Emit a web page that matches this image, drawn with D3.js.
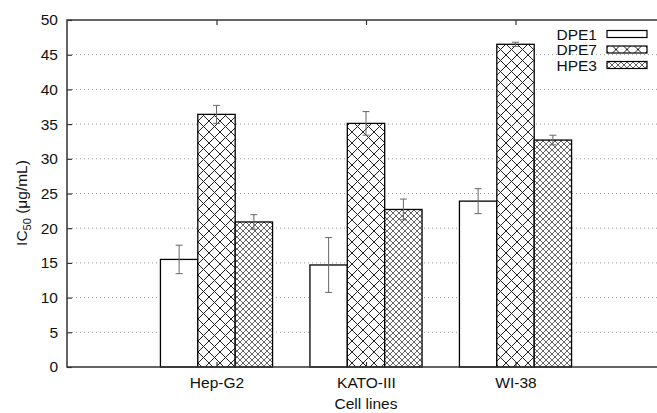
<!DOCTYPE html>
<html>
<head>
<meta charset="utf-8">
<script src="https://cdn.jsdelivr.net/npm/d3@7"></script>
<style>
  body { margin: 0; background: #fff; }
  svg { display: block; font-family: "Liberation Sans", Arial, sans-serif; }
</style>
</head>
<body>
<svg id="chart" width="657" height="413"></svg>
<script>
// data
var cellLines = ["Hep-G2", "KATO-III", "WI-38"];
var seriesNames = ["DPE1", "DPE7", "HPE3"];
var dpe1 = [15.5, 14.7, 23.9];
var dpe7 = [36.4, 35.1, 46.5];
var hpe3 = [20.9, 22.7, 32.7];
var dpe1Err = [2.05, 3.95, 1.8];
var dpe7Err = [1.3, 1.7, 0.3];
var hpe3Err = [1.05, 1.5, 0.7];
var yTicks = [0, 5, 10, 15, 20, 25, 30, 35, 40, 45, 50];

var values = [dpe1, dpe7, hpe3];
var errors = [dpe1Err, dpe7Err, hpe3Err];
var fontSize = 15.5;

let data = [];
seriesNames.forEach(function (s, j) {
  cellLines.forEach(function (c, i) {
    data.push({ series: j, group: i, value: values[j][i], err: errors[j][i] });
  });
});

let svg = d3.select("svg#chart");

// gnuplot-like x range: -1 .. 3 (right side is cut off by the picture)
let xScale = d3.scaleLinear().domain([-1, 3]).range([67, 665]),
  yScale = d3.scaleLinear().domain([0, 50]).range([367, 20]);

let boxW = xScale(0.25) - xScale(0);

// patterns
const defs = svg.append("defs");
function hatch(id, size, color, sw) {
  let p = defs.append("pattern")
    .attr("id", id)
    .attr("patternUnits", "userSpaceOnUse")
    .attr("width", size).attr("height", size);
  p.append("rect").attr("width", size).attr("height", size).attr("fill", "#fff");
  p.append("path")
    .attr("d", "M0,0L" + size + "," + size + "M" + size + ",0L0," + size)
    .attr("stroke", color).attr("stroke-width", sw).attr("fill", "none");
}
hatch("big-hatch", 11, "#222", 1);
hatch("fine-hatch", 6, "#555", 0.9);
var fills = ["#fff", "url(#big-hatch)", "url(#fine-hatch)"];

let g = svg.append("g");

// grid (dotted)
g.selectAll(".grid")
  .data(yTicks.slice(1, -1))
  .enter().append("line")
  .attr("x1", xScale(-1) + 5).attr("x2", 657)
  .attr("y1", d => yScale(d)).attr("y2", d => yScale(d))
  .attr("stroke", "#999").attr("stroke-width", 1)
  .attr("stroke-dasharray", "1,3");

// bars
g.selectAll(".bar")
  .data(data)
  .enter().append("rect")
  .attr("class", "bar")
  .attr("x", d => xScale(d.group) + (d.series - 1.5) * boxW)
  .attr("y", d => yScale(d.value))
  .attr("width", boxW)
  .attr("height", d => yScale(0) - yScale(d.value))
  .attr("fill", d => fills[d.series])
  .attr("stroke", "#000").attr("stroke-width", 1.3);

// error bars
let eb = g.selectAll(".err").data(data).enter().append("g")
  .attr("stroke", "#666").attr("stroke-width", 1);
let cx = d => xScale(d.group) + (d.series - 1) * boxW;
eb.append("line")
  .attr("x1", cx).attr("x2", cx)
  .attr("y1", d => yScale(d.value - d.err)).attr("y2", d => yScale(d.value + d.err));
eb.append("line")
  .attr("x1", d => cx(d) - 3.5).attr("x2", d => cx(d) + 3.5)
  .attr("y1", d => yScale(d.value + d.err)).attr("y2", d => yScale(d.value + d.err));
eb.append("line")
  .attr("x1", d => cx(d) - 3.5).attr("x2", d => cx(d) + 3.5)
  .attr("y1", d => yScale(d.value - d.err)).attr("y2", d => yScale(d.value - d.err));

// frame
g.append("path")
  .attr("d", "M657," + yScale(50) + "H" + xScale(-1) + "V" + yScale(0) + "H657")
  .attr("fill", "none").attr("stroke", "#333").attr("stroke-width", 1.5);

// y axis
g.append("g")
  .attr("transform", "translate(" + xScale(-1) + ",0)")
  .call(d3.axisLeft(yScale).tickValues(yTicks).tickSize(-5).tickPadding(9))
  .call(a => a.select(".domain").remove())
  .call(a => a.selectAll("line").attr("stroke", "#333").attr("stroke-width", 1.2))
  .call(a => a.selectAll("text").attr("font-size", fontSize).attr("fill", "#111")
    .attr("font-family", "Liberation Sans, Arial, sans-serif"));

// x axis (ticks at group centres, mirrored on top)
g.append("g")
  .attr("transform", "translate(0," + yScale(0) + ")")
  .call(d3.axisBottom(xScale).tickValues([0, 1, 2]).tickFormat(i => cellLines[i]).tickSize(-5).tickPadding(10))
  .call(a => a.select(".domain").remove())
  .call(a => a.selectAll("line").attr("stroke", "#333").attr("stroke-width", 1.2))
  .call(a => a.selectAll("text").attr("font-size", fontSize).attr("fill", "#111")
    .attr("font-family", "Liberation Sans, Arial, sans-serif"));
g.append("g")
  .attr("transform", "translate(0," + yScale(50) + ")")
  .call(d3.axisTop(xScale).tickValues([0, 1, 2]).tickFormat("").tickSize(-5))
  .call(a => a.select(".domain").remove())
  .call(a => a.selectAll("line").attr("stroke", "#333").attr("stroke-width", 1.2));

// axis titles
svg.append("text")
  .attr("x", xScale(1)).attr("y", 409)
  .attr("text-anchor", "middle").attr("font-size", fontSize).attr("fill", "#111")
  .text("Cell lines");

let yl = svg.append("text")
  .attr("transform", "translate(27,203) rotate(-90)")
  .attr("text-anchor", "middle").attr("font-size", fontSize).attr("fill", "#111");
yl.append("tspan").text("IC");
yl.append("tspan").attr("font-size", 11).attr("dy", 4).text("50");
yl.append("tspan").attr("dy", -4).text(" (\u03bcg/mL)");

// legend
let leg = svg.append("g").selectAll("g")
  .data(seriesNames)
  .enter().append("g")
  .attr("transform", (d, i) => "translate(0," + (34 + i * 15.5) + ")");
leg.append("text")
  .attr("x", 597).attr("y", 5.5)
  .attr("text-anchor", "end").attr("font-size", fontSize).attr("fill", "#111")
  .text(d => d);
leg.append("rect")
  .attr("x", 607).attr("y", -3.5).attr("width", 40).attr("height", 7)
  .attr("fill", (d, i) => fills[i])
  .attr("stroke", "#000").attr("stroke-width", 1.2);
</script>
</body>
</html>
